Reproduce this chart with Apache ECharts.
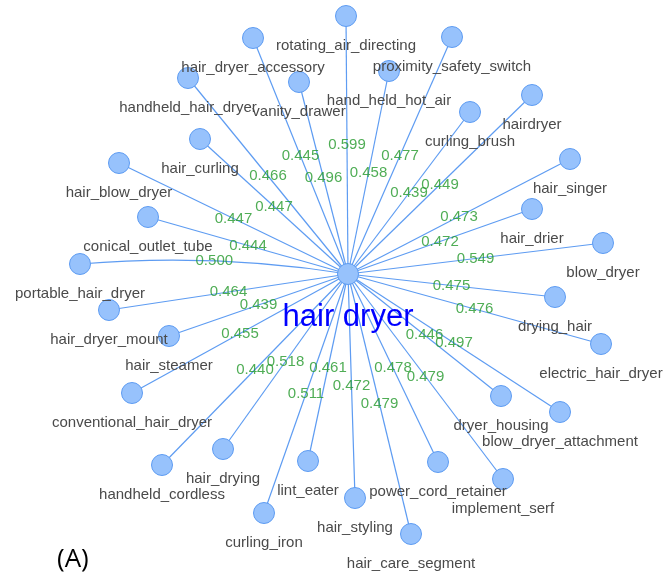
<!DOCTYPE html>
<html>
<head>
<meta charset="utf-8">
<title>hair dryer</title>
<script src="https://cdn.jsdelivr.net/npm/echarts@6/dist/echarts.min.js"></script>
<style>
	html, body { margin: 0; padding: 0; background: #fff; }
	#chart { width: 668px; height: 581px; }
</style>
</head>
<body>
<div id="chart"></div>
<script>
// hub term and its neighbours, with similarity on each edge
var hubName = 'hair dryer';
var hubPos = [348, 274];

var names = [
	'rotating_air_directing', 'hair_dryer_accessory', 'vanity_drawer', 'handheld_hair_dryer',
	'hair_curling', 'hair_blow_dryer', 'conical_outlet_tube', 'portable_hair_dryer',
	'hair_dryer_mount', 'hair_steamer', 'conventional_hair_dryer', 'handheld_cordless',
	'hair_drying', 'curling_iron', 'lint_eater', 'hair_styling',
	'hair_care_segment', 'power_cord_retainer', 'implement_serf', 'dryer_housing',
	'blow_dryer_attachment', 'electric_hair_dryer', 'drying_hair', 'blow_dryer',
	'hair_drier', 'hair_singer', 'hairdryer', 'curling_brush',
	'proximity_safety_switch', 'hand_held_hot_air'
];
var nodeX = [346, 253, 299, 188, 200, 119, 148, 80, 109, 169, 132, 162, 223, 264, 308,
	355, 411, 438, 503, 501, 560, 601, 555, 603, 532, 570, 532, 470, 452, 389];
var nodeY = [16, 38, 82, 78, 139, 163, 217, 264, 310, 336, 393, 465, 449, 513, 461,
	498, 534, 462, 479, 396, 412, 344, 297, 243, 209, 159, 95, 112, 37, 71];
var weights = [0.599, 0.445, 0.496, 0.466, 0.447, 0.447, 0.444, 0.500, 0.464, 0.439,
	0.455, 0.440, 0.518, 0.511, 0.461, 0.472, 0.479, 0.478, 0.479, 0.446,
	0.497, 0.476, 0.475, 0.549, 0.472, 0.473, 0.449, 0.439, 0.477, 0.458];

var curvedEdge = 'portable_hair_dryer';
var curve = -0.06;

var nodes = [{
	name: hubName,
	value: hubPos,
	label: {
		fontSize: 31,
		color: '#0000ff',
		distance: 17
	}
}];
var links = [];
var edgeLabels = [];
names.forEach(function (n, i) {
	nodes.push({ name: n, value: [nodeX[i], nodeY[i]] });
	var c = n === curvedEdge ? curve : 0;
	links.push({
		source: hubName,
		target: n,
		value: weights[i],
		lineStyle: { curveness: c }
	});
	// label sits at the middle of the (possibly curved) edge
	var p1 = hubPos, p2 = [nodeX[i], nodeY[i]];
	var cp = [
		(p1[0] + p2[0]) / 2 - (p1[1] - p2[1]) * c,
		(p1[1] + p2[1]) / 2 - (p2[0] - p1[0]) * c
	];
	edgeLabels.push([
		0.25 * p1[0] + 0.5 * cp[0] + 0.25 * p2[0],
		0.25 * p1[1] + 0.5 * cp[1] + 0.25 * p2[1],
		weights[i]
	]);
});

var chart = echarts.init(document.getElementById('chart'));
var option = {
	backgroundColor: '#fff',
	animation: false,
	grid: { left: 0, right: 0, top: 0, bottom: 0 },
	xAxis: { type: 'value', min: 0, max: 668, show: false },
	yAxis: { type: 'value', min: 0, max: 581, inverse: true, show: false },
	graphic: [{
		type: 'text',
		left: 57,
		top: 547,
		style: {
			text: '(A)',
			fontSize: 26,
			fontFamily: 'Open Sans',
			fill: '#000'
		}
	}],
	series: [{
		type: 'graph',
		layout: 'none',
		coordinateSystem: 'cartesian2d',
		symbol: 'circle',
		symbolSize: 21,
		itemStyle: {
			color: '#97c2fc',
			borderColor: '#5e9cf2',
			borderWidth: 1
		},
		lineStyle: {
			color: '#5e9cf2',
			width: 1.2,
			opacity: 1
		},
		label: {
			show: true,
			position: 'bottom',
			distance: 11,
			fontSize: 15,
			fontFamily: 'Liberation Sans',
			color: '#4a4a4a'
		},
		emphasis: { disabled: true },
		data: nodes,
		links: links
	}, {
		type: 'scatter',
		symbolSize: 0,
		silent: true,
		z: 5,
		label: {
			show: true,
			position: 'inside',
			fontSize: 15,
			fontFamily: 'Liberation Sans',
			color: '#23992a',
			formatter: function (p) { return p.value[2].toFixed(3); }
		},
		data: edgeLabels
	}]
};
chart.setOption(option);
</script>
</body>
</html>
